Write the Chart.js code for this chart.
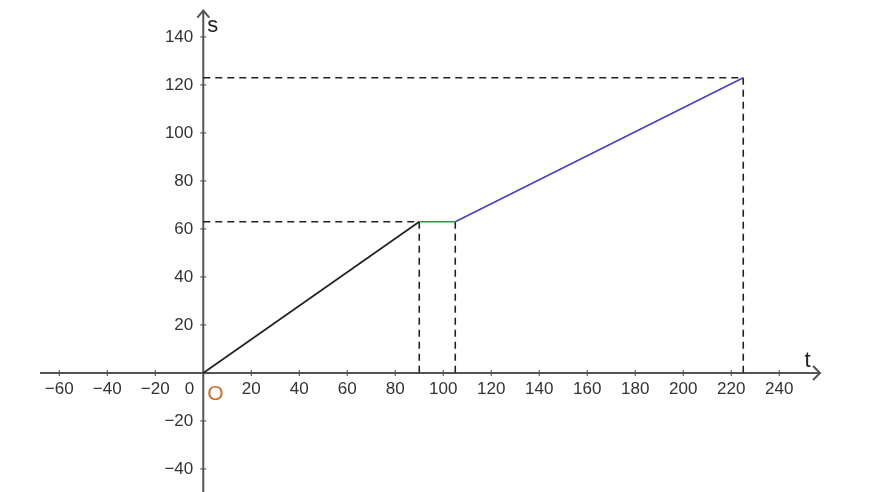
<!DOCTYPE html>
<html>
<head>
<meta charset="utf-8">
<script src="https://cdn.jsdelivr.net/npm/chart.js@4.4.1/dist/chart.umd.min.js"></script>
<style>
  html, body { margin: 0; padding: 0; background: #fff; }
  #wrap { width: 875px; height: 492px; }
</style>
</head>
<body>
<div id="wrap"><canvas id="c" width="875" height="492"></canvas></div>
<script>
// path of the motion: time t and distance s
const tPoints = [0, 90, 105, 225];
const sPoints = [0, 63, 63, 123];

const xTicks = [-60, -40, -20, 20, 40, 60, 80, 100, 120, 140, 160, 180, 200, 220, 240];
const yTicks = [-40, -20, 20, 40, 60, 80, 100, 120, 140];

function pt(i) { return { x: tPoints[i], y: sPoints[i] }; }

const dash = [7, 5];

const datasets = [
  { data: [pt(0), pt(1)], borderColor: "#222", borderWidth: 1.7 },
  { data: [pt(1), pt(2)], borderColor: "#2e9a3a", borderWidth: 1.7 },
  { data: [pt(2), pt(3)], borderColor: "#4646b4", borderWidth: 1.7 },
  // helper dashed lines to the axes
  { data: [{ x: 0, y: sPoints[1] }, pt(1), { x: tPoints[1], y: 0 }], borderColor: "#222", borderWidth: 1.6, borderDash: dash },
  { data: [pt(2), { x: tPoints[2], y: 0 }], borderColor: "#222", borderWidth: 1.6, borderDash: dash },
  { data: [{ x: 0, y: sPoints[3] }, pt(3), { x: tPoints[3], y: 0 }], borderColor: "#222", borderWidth: 1.6, borderDash: dash }
].map(d => Object.assign({ showLine: true, pointRadius: 0, fill: false, tension: 0 }, d));

const axesPlugin = {
  id: "axes",
  beforeDatasetsDraw(chart) {
    const ctx = chart.ctx;
    const xs = chart.scales.x, ys = chart.scales.y;
    const x0 = xs.getPixelForValue(0), y0 = ys.getPixelForValue(0);
    ctx.save();
    ctx.strokeStyle = "#555";
    ctx.lineWidth = 2;
    // x axis
    const xEnd = xs.getPixelForValue(257);
    ctx.beginPath();
    ctx.moveTo(xs.getPixelForValue(-68), y0);
    ctx.lineTo(xEnd, y0);
    ctx.stroke();
    ctx.beginPath();
    ctx.moveTo(xEnd - 7, y0 - 7);
    ctx.lineTo(xEnd, y0);
    ctx.lineTo(xEnd - 7, y0 + 7);
    ctx.stroke();
    // y axis
    const yEnd = ys.getPixelForValue(151);
    ctx.beginPath();
    ctx.moveTo(x0, ys.getPixelForValue(-52));
    ctx.lineTo(x0, yEnd);
    ctx.stroke();
    ctx.beginPath();
    ctx.moveTo(x0 - 6, yEnd + 7);
    ctx.lineTo(x0, yEnd);
    ctx.lineTo(x0 + 6, yEnd + 7);
    ctx.stroke();

    ctx.lineWidth = 1;
    ctx.strokeStyle = "#444";
    ctx.fillStyle = "#333";
    ctx.font = "17px 'Liberation Sans', Arial, sans-serif";
    ctx.textAlign = "center";
    ctx.textBaseline = "middle";
    xTicks.forEach(v => {
      const px = xs.getPixelForValue(v);
      ctx.beginPath();
      ctx.moveTo(px, y0 - 3);
      ctx.lineTo(px, y0 + 3);
      ctx.stroke();
      ctx.fillText(String(v).replace("-", "\u2212"), px, y0 + 16);
    });
    ctx.textAlign = "right";
    yTicks.forEach(v => {
      const py = ys.getPixelForValue(v);
      ctx.beginPath();
      ctx.moveTo(x0 - 3, py);
      ctx.lineTo(x0 + 3, py);
      ctx.stroke();
      ctx.fillText(String(v).replace("-", "\u2212"), x0 - 10, py);
    });
    ctx.fillText("0", x0 - 9, y0 + 16);

    // axis names and origin mark
    ctx.textAlign = "left";
    ctx.font = "22px 'Liberation Sans', Arial, sans-serif";
    ctx.fillStyle = "#222";
    ctx.fillText("s", x0 + 4, ys.getPixelForValue(144.5));
    ctx.fillText("t", xs.getPixelForValue(250.5), y0 - 12);
    ctx.fillStyle = "#d2702a";
    ctx.font = "21px 'Liberation Sans', Arial, sans-serif";
    ctx.fillText("O", x0 + 4, y0 + 21);
    ctx.restore();
  }
};

new Chart(document.getElementById("c"), {
  type: "scatter",
  data: { datasets },
  options: {
    responsive: false,
    animation: false,
    layout: { padding: 0 },
    plugins: { legend: { display: false }, tooltip: { enabled: false } },
    scales: {
      x: { type: "linear", min: -84.7, max: 279.9, display: false },
      y: { type: "linear", min: -49.6, max: 155.4, display: false }
    }
  },
  plugins: [axesPlugin]
});
</script>
</body>
</html>
